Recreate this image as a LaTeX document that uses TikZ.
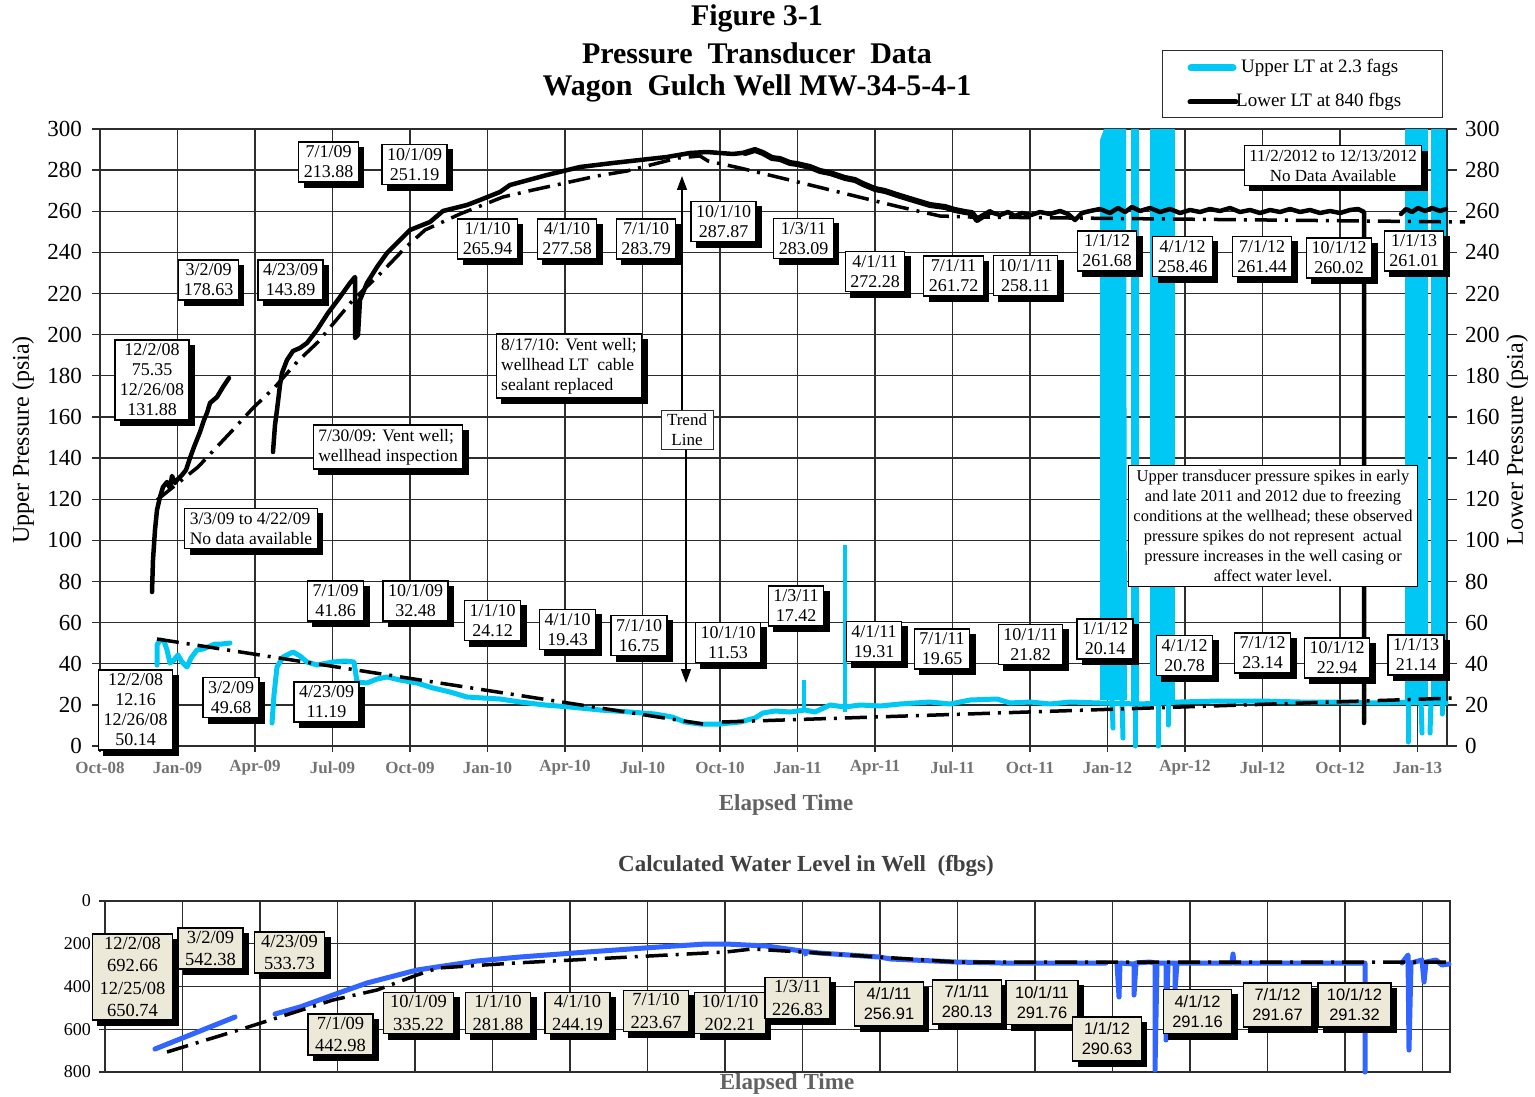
\documentclass[tikz,border=0pt]{standalone}
\usepackage{fontspec}
\setmainfont{Liberation Serif}
\newfontfamily\arialf{Liberation Sans}
\usetikzlibrary{arrows.meta}
\pgfdeclarelayer{bgl}
\pgfdeclarelayer{shl}
\pgfsetlayers{bgl,shl,main}
\definecolor{cyanL}{RGB}{0,200,245}
\definecolor{blueL}{RGB}{50,100,255}
\definecolor{beigeF}{RGB}{236,233,216}
\definecolor{gridc}{RGB}{45,45,45}
\definecolor{tickgray}{RGB}{115,115,115}
\newcommand\fsTitle{\fontsize{30}{35}\selectfont\bfseries}
\newcommand\fsLab{\fontsize{18}{20}\selectfont}
\newcommand\fsAnn{\fontsize{17.5}{20}\selectfont}
\newcommand\fsNote{\fontsize{16.5}{20}\selectfont}
\newcommand\fsW{\fontsize{18.5}{22.5}\selectfont}
\newcommand\fsWs{\arialf\fontsize{16.5}{20}\selectfont}
\newcommand\fsXt{\fontsize{17}{17}\selectfont\bfseries}
\newcommand\fsYt{\fontsize{23}{23}\selectfont}
\newcommand\fsYb{\fontsize{18}{18}\selectfont}
\newcommand\fsAx{\fontsize{24}{24}\selectfont}
\newcommand\fsEl{\fontsize{23}{23}\selectfont\bfseries}
\newcommand\fsLeg{\fontsize{19}{19}\selectfont}
\begin{document}
\begin{tikzpicture}[x=1pt,y=-1pt,
  gridl/.style={draw=gridc, line width=1.3pt},
  lab/.style={draw=black, line width=1.3pt, fill=white, align=center, font=\fsLab, inner xsep=5pt, inner ysep=4pt},
  ann/.style={draw=black, line width=1.3pt, fill=white, align=left, font=\fsAnn, inner xsep=5pt, inner ysep=4pt},
  wlab/.style={draw=black, line width=1.3pt, fill=beigeF, align=center, font=\fsW, inner xsep=7pt, inner ysep=3pt},
  wlabs/.style={wlab, font=\fsWs, inner xsep=9pt, inner ysep=6pt},
  xtick/.style={font=\fsXt, text=tickgray, inner sep=0pt},
  blk/.style={black, line width=4.5pt, line join=round, line cap=round},
  cyn/.style={cyanL, line width=5pt, line join=round, line cap=round},
  blu/.style={blueL, line width=5pt, line join=round, line cap=round},
  trend/.style={black, line width=3.5pt, dash pattern=on 22pt off 8pt on 3pt off 8pt},
]
\useasboundingbox (0,0) rectangle (1535,1097);
\begin{pgfonlayer}{bgl}
\fill[white] (0,0) rectangle (1535,1097);

% ---------------- top grid
\foreach \i in {0,...,17} \draw[gridl] ({100+77.5*\i},129) -- ({100+77.5*\i},752);
\draw[gridl] (1447,129) -- (1447,746);
\foreach \k in {0,...,15} \draw[gridl] (92,{746-41.133*\k}) -- (1457,{746-41.133*\k});

% ---------------- cyan (upper LT) data
\fill[cyanL] (1100,140) -- (1104,129) -- (1126,129) -- (1127,700) -- (1100,700) -- cycle;
\fill[cyanL] (1131,129) rectangle (1139,705);
\fill[cyanL] (1150,129) rectangle (1175,705);
\fill[cyanL] (1405,129) rectangle (1428,705);
\fill[cyanL] (1431,129) rectangle (1446,705);
\draw[cyn] (1112,700) -- (1113,728);
\draw[cyn] (1122,700) -- (1123,738);
\draw[cyn] (1135,700) -- (1135,746);
\draw[cyn] (1158,700) -- (1158,746);
\draw[cyn] (1168,700) -- (1168,725);
\draw[cyn] (1408,700) -- (1408,742);
\draw[cyn] (1421,700) -- (1422,733);
\draw[cyn] (1431,700) -- (1430,733);
\draw[cyn] (1442,700) -- (1442,714);

\draw[cyn] (157,665) -- (157,645) -- (160,640) -- (164,641) -- (167,650) -- (170,663) -- (174,660) -- (178,655) -- (182,662) -- (187,667) -- (191,658) -- (197,650) -- (203,649) -- (208,647) -- (215,644) -- (222,644) -- (230,643);
\draw[cyn] (272,723) -- (274,695) -- (277,667) -- (283,657) -- (293,652) -- (300,656) -- (307,662) -- (317,665) -- (333,662) -- (345,661) -- (354,662) -- (357,682) -- (367,683) -- (377,679) -- (387,677) -- (400,680) -- (417,683) -- (433,688) -- (450,692) -- (467,697) -- (483,698) -- (500,699) -- (520,702) -- (545,705) -- (570,707) -- (600,710) -- (630,712) -- (655,714) -- (672,717) -- (685,722) -- (700,724) -- (720,724) -- (740,722) -- (755,718) -- (763,713) -- (775,711) -- (790,712) -- (805,710) -- (815,712) -- (830,705) -- (845,707) -- (860,705) -- (880,706) -- (900,704) -- (930,702) -- (950,704) -- (970,700) -- (997,699) -- (1010,703) -- (1030,702) -- (1050,704) -- (1070,702) -- (1100,703) -- (1140,704) -- (1180,702) -- (1220,701) -- (1260,701) -- (1300,702) -- (1340,702) -- (1380,703) -- (1420,702) -- (1446,703);
\draw[cyanL, line width=4pt] (804,712) -- (804,680);
\draw[cyanL, line width=4.5pt] (845,712) -- (845,545);

% ---------------- black (lower LT) data
\draw[blk] (152,592) -- (153,560) -- (155,530) -- (157,510) -- (160,497) -- (163,487) -- (167,482) -- (170,488) -- (172,476) -- (175,483) -- (177,480) -- (182,475) -- (186,470) -- (190,458) -- (194,447) -- (200,432) -- (204,420) -- (207,413) -- (210,403) -- (217,397) -- (223,387) -- (229,378);
\draw[blk] (273,452) -- (275,425) -- (277,410) -- (280,385) -- (282,373) -- (287,360) -- (293,351) -- (300,348) -- (307,343) -- (317,330) -- (328,313) -- (340,297) -- (350,283) -- (355,277) -- (355,338) -- (358,335) -- (360,300) -- (367,283) -- (377,267) -- (387,253) -- (400,240) -- (410,230) -- (430,222) -- (443,211) -- (467,205) -- (480,200) -- (500,192) -- (510,185) -- (547,175) -- (580,167) -- (613,163) -- (640,160) -- (667,157) -- (690,153) -- (707,152) -- (733,154) -- (750,152);
\draw[black, line width=6pt, line join=round, line cap=round] (745,153) -- (755,150) -- (763,153) -- (772,158) -- (780,159) -- (790,163) -- (797,164) -- (810,167) -- (820,171) -- (830,173) -- (845,178) -- (855,180) -- (863,184) -- (875,189) -- (885,191) -- (897,195) -- (910,199) -- (920,202) -- (930,205) -- (945,207) -- (955,210) -- (965,212) -- (972,213) -- (977,220) -- (983,216) -- (990,212);
\draw[blk] (990,212) -- (1000,215) -- (1008,212) -- (1015,216) -- (1022,213) -- (1031,215) -- (1040,212) -- (1050,214) -- (1060,211) -- (1068,214) -- (1075,220) -- (1082,213) -- (1090,211) -- (1100,209) -- (1110,213) -- (1118,208) -- (1125,212) -- (1132,207) -- (1140,211) -- (1150,208) -- (1160,212) -- (1170,209) -- (1180,213) -- (1190,210) -- (1200,212) -- (1210,209) -- (1220,211) -- (1230,208) -- (1240,212) -- (1250,210) -- (1260,213) -- (1270,210) -- (1280,212) -- (1290,209) -- (1300,212) -- (1310,210) -- (1320,213) -- (1330,211) -- (1340,213) -- (1350,210) -- (1358,209) -- (1364,212) -- (1364,723);
\draw[blk] (1401,214) -- (1406,209) -- (1412,212) -- (1418,208) -- (1425,211) -- (1432,208) -- (1440,211) -- (1446,209);

% ---------------- trend lines (top)
\draw[trend] (157,500) -- (198,467) -- (230,433) -- (253,408) -- (275,387) -- (297,362) -- (318,342) -- (353,300) -- (382,272) -- (405,248) -- (425,230) -- (460,214) -- (503,197) -- (533,190) -- (565,183) -- (597,176) -- (627,171) -- (678,158) -- (700,156) -- (708,161) -- (740,168) -- (802,183) -- (863,198) -- (900,207) -- (940,216) -- (970,217) -- (1465,222);
\draw[trend] (157,639) -- (703,724);
\draw[trend] (722,722) -- (1456,698);

% ================= bottom chart grid and data
\foreach \i in {1,...,17} \draw[gridl, line width=1.1pt] ({105+77.5*\i},901) -- ({105+77.5*\i},1072);
\foreach \k in {1,2,3} \draw[gridl, line width=1.1pt] (99,{901+42.75*\k}) -- (1450,{901+42.75*\k});
\draw[gridl, line width=1.1pt] (99,901) -- (1450,901) -- (1450,1072) -- (99,1072);
\draw[gridl, line width=1.1pt] (105,901) -- (105,1072);

\draw[blu] (155,1049) -- (175,1041) -- (195,1033) -- (215,1025) -- (235,1017);
\draw[blu] (275,1014) -- (300,1007) -- (333,995) -- (367,983) -- (417,970) -- (477,961) -- (520,957) -- (587,952) -- (630,949) -- (659,947) -- (706,944) -- (726,944) -- (766,946) -- (802,951) -- (819,953) -- (879,957) -- (891,959) -- (956,962) -- (1001,963) -- (1106,963);
\draw[blueL, line width=4pt] (804,950) -- (806,956);
\draw[blu] (1117,963) -- (1119,997) -- (1120,963) -- (1134,964) -- (1134,995) -- (1136,963) -- (1150,962) -- (1155,963) -- (1155,1070) -- (1157,963) -- (1166,963) -- (1166,1040) -- (1168,963) -- (1175,963) -- (1175,990) -- (1177,963) -- (1232,963) -- (1233,954) -- (1234,963) -- (1365,963) -- (1365,1072);
\draw[blu] (1402,963) -- (1408,955) -- (1409,1050) -- (1411,963) -- (1422,960) -- (1424,982) -- (1426,962) -- (1436,960) -- (1442,965) -- (1449,964);

\draw[trend] (167,1052) -- (242,1029) -- (333,1000) -- (377,990) -- (417,975) -- (438,968) -- (515,963) -- (592,959) -- (668,955) -- (726,952) -- (752,949) -- (802,952) -- (879,957) -- (956,962) -- (1447,962);
\end{pgfonlayer}

% ---------------- titles
\node[font=\fsTitle] (t1) at (757,18) {Figure 3-1};
\node[font=\fsTitle] (t2) at (757,53) {Pressure\ \ Transducer\ \ Data};
\node[font=\fsTitle] (t3) at (757,88) {Wagon\ \ Gulch Well MW-34-5-4-1};

% y labels
\foreach \v [count=\k from 0] in {0,20,...,300} {
  \node[anchor=east, font=\fsYt, inner sep=0pt] (yl\k) at (82,{746-2.0567*\v}) {\v};
  \node[anchor=west, font=\fsYt, inner sep=0pt] (yr\k) at (1465,{746-2.0567*\v}) {\v};
}
\node[rotate=90, font=\fsAx] (yaxl) at (23,440) {Upper Pressure (psia)};
\node[rotate=90, font=\fsAx] (yaxr) at (1517,440) {Lower Pressure (psia)};

% x labels
\foreach \lab [count=\i from 0] in {Oct-08,Jan-09,Apr-09,Jul-09,Oct-09,Jan-10,Apr-10,Jul-10,Oct-10,Jan-11,Apr-11,Jul-11,Oct-11,Jan-12,Apr-12,Jul-12,Oct-12,Jan-13}
  \node[xtick] (xt\i) at ({100+77.5*\i},768) {\lab};
\node[font=\fsEl, text=tickgray!85!black] (el1) at (786,805) {Elapsed Time};

% ---------------- legend
\node[draw=gridc, line width=1pt, fill=white, minimum width=280pt, minimum height=67pt, inner sep=0pt] (legend) at (1302,84.5) {};
\coordinate (lc1) at (1191,68); \coordinate (lc2) at (1233,68);
\draw[cyanL, line width=7pt, line cap=round] (lc1) -- (lc2);
\node[anchor=west, font=\fsLeg, inner sep=0pt] (legt1) at (1241,68) {Upper LT at 2.3 fags};
\coordinate (lk1) at (1190,102); \coordinate (lk2) at (1236,102);
\draw[black, line width=5pt, line cap=round] (lk1) -- (lk2);
\node[anchor=west, font=\fsLeg, inner sep=0pt] (legt2) at (1236,102) {Lower LT at 840 fbgs};

% ---------------- upper (black) labels
\node[lab] (u1) at (152,380) {12/2/08\\75.35\\12/26/08\\131.88};
\node[lab] (u2) at (208.5,280) {3/2/09\\178.63};
\node[lab] (u3) at (290.5,280) {4/23/09\\143.89};
\node[lab] (u4) at (328.5,162) {7/1/09\\213.88};
\node[lab] (u5) at (414.5,164.5) {10/1/09\\251.19};
\node[lab] (u6) at (487.5,239) {1/1/10\\265.94};
\node[lab] (u7) at (567,239) {4/1/10\\277.58};
\node[lab] (u8) at (646,239) {7/1/10\\283.79};
\node[lab] (u9) at (723.5,221.5) {10/1/10\\287.87};
\node[lab] (u10) at (803.5,238.5) {1/3/11\\283.09};
\node[lab] (u11) at (875,271.5) {4/1/11\\272.28};
\node[lab] (u12) at (953.5,276) {7/1/11\\261.72};
\node[lab] (u13) at (1025.5,275.5) {10/1/11\\258.11};
\node[lab] (u14) at (1107,251) {1/1/12\\261.68};
\node[lab] (u15) at (1182.5,256.5) {4/1/12\\258.46};
\node[lab] (u16) at (1262,256.5) {7/1/12\\261.44};
\node[lab] (u17) at (1339,258) {10/1/12\\260.02};
\node[lab] (u18) at (1414,251) {1/1/13\\261.01};
\node[lab, font=\fontsize{17}{20}\selectfont] (u19) at (1333,165.5) {11/2/2012 to 12/13/2012\\No Data Available};

% ---------------- annotations
\node[ann] (a1) at (569,366) {8/17/10: Vent well;\\wellhead LT\ \ cable\\sealant replaced};
\node[ann] (a2) at (388,447) {7/30/09: Vent well;\\wellhead inspection};
\node[ann] (a3) at (251,528.5) {3/3/09 to 4/22/09\\No data available};
\node[draw=gridc, line width=1pt, fill=white, align=center, font=\fontsize{17}{20}\selectfont, inner xsep=6pt, inner ysep=4pt] (tl) at (687,430) {Trend\\Line};
\coordinate (tlup) at (682,176);
\coordinate (tldn) at (686,683);
\draw[line width=1.3pt, -{Triangle[length=14pt,width=10pt]}] (tl.north -| tlup) -- (tlup);
\draw[line width=1.3pt, -{Triangle[length=14pt,width=10pt]}] (tl.south -| tldn) -- (tldn);
\node[draw=black, line width=1.3pt, fill=white, align=center, font=\fsNote, inner xsep=5pt, inner ysep=5pt] (note) at (1273,526) {Upper transducer pressure spikes in early\\and late 2011 and 2012 due to freezing\\conditions at the wellhead; these observed\\pressure spikes do not represent\ \ actual\\pressure increases in the well casing or\\affect water level.};

% ---------------- lower (cyan) labels
\node[lab] (l1) at (135.5,710) {12/2/08\\12.16\\12/26/08\\50.14};
\node[lab] (l2) at (231,697.5) {3/2/09\\49.68};
\node[lab] (l3) at (326.5,702) {4/23/09\\11.19};
\node[lab] (l4) at (335.5,601) {7/1/09\\41.86};
\node[lab] (l5) at (415.5,601) {10/1/09\\32.48};
\node[lab] (l6) at (492.5,620.5) {1/1/10\\24.12};
\node[lab] (l7) at (567.5,629.5) {4/1/10\\19.43};
\node[lab] (l8) at (639,635.5) {7/1/10\\16.75};
\node[lab] (l9) at (728,642.5) {10/1/10\\11.53};
\node[lab] (l10) at (796,606) {1/3/11\\17.42};
\node[lab] (l11) at (874,641.5) {4/1/11\\19.31};
\node[lab] (l12) at (942,649) {7/1/11\\19.65};
\node[lab] (l13) at (1030.5,644.5) {10/1/11\\21.82};
\node[lab] (l14) at (1105,639) {1/1/12\\20.14};
\node[lab] (l15) at (1184.5,655.5) {4/1/12\\20.78};
\node[lab] (l16) at (1262.5,653) {7/1/12\\23.14};
\node[lab] (l17) at (1337,658) {10/1/12\\22.94};
\node[lab] (l18) at (1416,655) {1/1/13\\21.14};

% ================= bottom chart texts
\node[font=\fsEl, text=black!75] (t4) at (806,866) {Calculated Water Level in Well\ \ (fbgs)};
\foreach \v [count=\k from 0] in {0,200,400,600,800}
  \node[anchor=east, font=\fsYb, inner sep=0pt] (bl\k) at (91,{901+0.21375*\v}) {\v};

\node[wlab] (w1) at (132.5,977) {12/2/08\\692.66\\12/25/08\\650.74};
\node[wlab] (w2) at (210.5,948.5) {3/2/09\\542.38};
\node[wlab] (w3) at (289.5,952.5) {4/23/09\\533.73};
\node[wlab] (w4) at (340.5,1034.5) {7/1/09\\442.98};
\node[wlab] (w5) at (418.5,1013) {10/1/09\\335.22};
\node[wlab] (w6) at (498,1013) {1/1/10\\281.88};
\node[wlab] (w7) at (577.5,1013) {4/1/10\\244.19};
\node[wlab] (w8) at (656,1011) {7/1/10\\223.67};
\node[wlab] (w9) at (730,1013) {10/1/10\\202.21};
\node[wlab] (w10) at (797.5,998) {1/3/11\\226.83};
\node[wlabs] (w11) at (889,1004) {4/1/11\\256.91};
\node[wlabs] (w12) at (967,1002) {7/1/11\\280.13};
\node[wlabs] (w13) at (1042,1002.5) {10/1/11\\291.76};
\node[wlabs] (w14) at (1107,1039) {1/1/12\\290.63};
\node[wlabs] (w15) at (1197.5,1011.5) {4/1/12\\291.16};
\node[wlabs] (w16) at (1277.5,1005) {7/1/12\\291.67};
\node[wlabs] (w17) at (1354.5,1005) {10/1/12\\291.32};

\node[font=\fsEl, text=tickgray!85!black] (el2) at (787,1084) {Elapsed Time};

% ---------------- drop shadows (behind the boxes, above the data)
\begin{pgfonlayer}{shl}
\foreach \n in {u1,u2,u3,u4,u5,u6,u7,u8,u9,u10,u11,u12,u13,u14,u15,u16,u17,u18,u19,a1,a2,a3,l1,l2,l3,l4,l5,l6,l7,l8,l9,l10,l11,l12,l13,l14,l15,l16,l17,l18,w1,w2,w3,w4,w5,w6,w7,w8,w9,w10,w11,w12,w13,w14,w15,w16,w17}
  \fill[black] ([shift={(5.5pt,-5.5pt)}]\n.south west) rectangle ([shift={(5.5pt,-5.5pt)}]\n.north east);
\end{pgfonlayer}
\end{tikzpicture}
\end{document}
